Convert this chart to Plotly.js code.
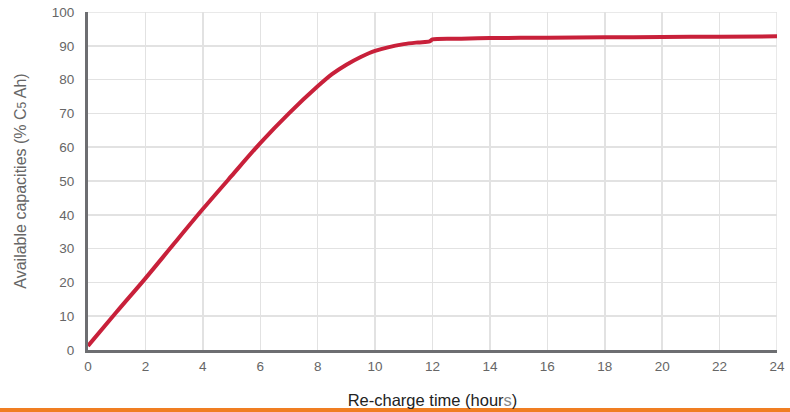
<!DOCTYPE html>
<html>
<head>
<meta charset="utf-8">
<script src="https://cdn.plot.ly/plotly-3.0.1.min.js"></script>
<style>html,body{margin:0;padding:0;background:#fff;}#chart{width:790px;height:412px;}</style>
</head>
<body>
<div id="chart"></div>
<script>
const hours = [0, 1, 2, 3, 4, 5, 6, 7, 8, 8.5, 9, 9.5, 10, 11, 11.5, 11.9, 12, 13, 14, 16, 18, 20, 22, 24];
const capacity = [1.2, 11.3, 21.2, 31.5, 41.7, 51.5, 61.2, 70, 78, 81.6, 84.4, 86.7, 88.5, 90.5, 91, 91.3, 91.9, 92.1, 92.3, 92.4, 92.5, 92.6, 92.7, 92.8];
const xTicks = [0, 2, 4, 6, 8, 10, 12, 14, 16, 18, 20, 22, 24];
const yTicks = [0, 10, 20, 30, 40, 50, 60, 70, 80, 90, 100];

const trace = {
  x: hours, y: capacity, type: 'scatter', mode: 'lines',
  line: {color: '#C8203A', width: 4, shape: 'spline', smoothing: 0.8},
  hoverinfo: 'skip'
};
const W = 689, H = 338;
const layout = {
  width: 790, height: 412,
  margin: {l: 88, r: 13, t: 12, b: 62},
  paper_bgcolor: '#fff', plot_bgcolor: '#fff',
  showlegend: false,
  font: {family: 'Liberation Sans, Arial, sans-serif', color: '#666', size: 13.5},
  xaxis: {
    range: [0, 24], tickvals: xTicks, ticktext: xTicks.map(String),
    showgrid: true, gridcolor: '#e2e2e2', gridwidth: 1.5,
    showline: true, linecolor: '#6d6e71', linewidth: 3,
    zeroline: false, ticks: '', ticklabelstandoff: 2,
    tickfont: {size: 13.5, color: '#666'},
    title: {text: 'Re-charge time (hour<span style="fill:#888">s</span>)', font: {size: 16.5, color: '#222'}, standoff: 22}
  },
  yaxis: {
    range: [0, 100], tickvals: yTicks, ticktext: yTicks.map(String),
    showgrid: true, gridcolor: '#e2e2e2', gridwidth: 1.5,
    showline: true, linecolor: '#6d6e71', linewidth: 3,
    zeroline: false, ticks: '', ticklabelstandoff: 8,
    tickfont: {size: 13.5, color: '#666'},
    title: {text: 'Available capacities (% C<span style="font-size:12px">5</span> Ah)', font: {size: 16, color: '#666'}, standoff: 22}
  },
  shapes: [
    {type: 'line', xref: 'x', yref: 'y', x0: 24, x1: 24, y0: 0, y1: 100, line: {color: '#e2e2e2', width: 1.5}, layer: 'below'},
    {type: 'line', xref: 'x', yref: 'y', x0: 0, x1: 24, y0: 100, y1: 100, line: {color: '#e2e2e2', width: 1.5}, layer: 'below'},
    {type: 'rect', xref: 'paper', yref: 'paper', x0: -88 / W, x1: 1 + 13 / W, y0: -62 / H, y1: -58 / H, fillcolor: '#F07E22', line: {width: 0}}
  ]
};
Plotly.newPlot('chart', [trace], layout, {staticPlot: true, displayModeBar: false});
</script>
</body>
</html>
